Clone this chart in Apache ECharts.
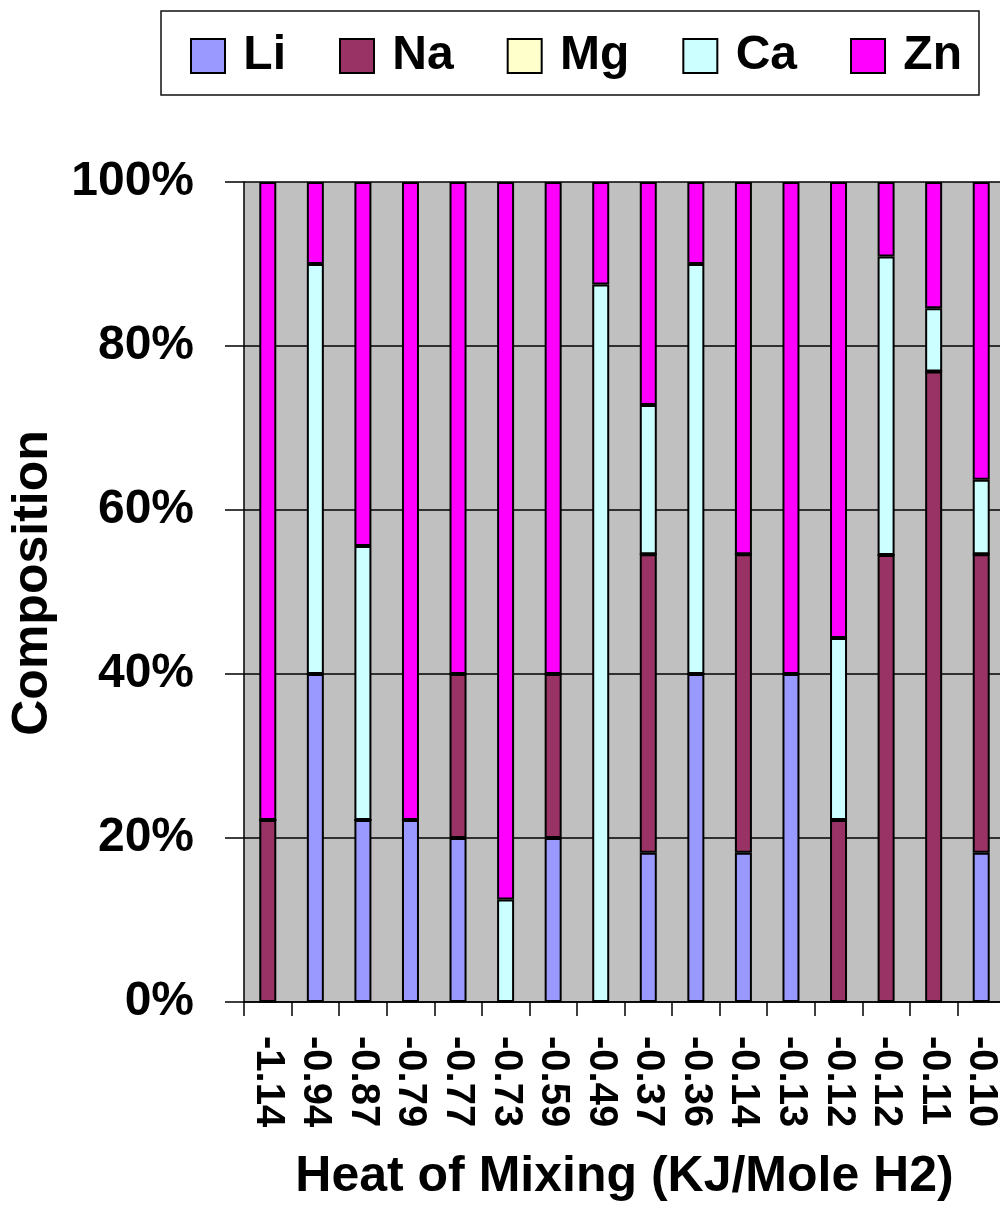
<!DOCTYPE html>
<html>
<head>
<meta charset="utf-8">
<script src="https://cdn.jsdelivr.net/npm/echarts@6/dist/echarts.min.js"></script>
<style>
  html, body { margin: 0; padding: 0; background: #fff; overflow: hidden; }
  #chart { width: 1010px; height: 1211px; }
</style>
</head>
<body>
<div id="chart"></div>
<script>
// Heat of mixing per alloy (category axis labels)
const categories = ['-1.14', '-0.94', '-0.87', '-0.79', '-0.77', '-0.73', '-0.59', '-0.49',
                    '-0.37', '-0.36', '-0.14', '-0.13', '-0.12', '-0.12', '-0.11', '-0.10'];

// Composition share of each element, in percent
const li = [0, 40, 22.2, 22.2, 20, 0, 20, 0, 18.2, 40, 18.2, 40, 0, 0, 0, 18.2];
const na = [22.2, 0, 0, 0, 20, 0, 20, 0, 36.4, 0, 36.4, 0, 22.2, 54.5, 76.9, 36.4];
const mg = [0, 0, 0, 0, 0, 0, 0, 0, 0, 0, 0, 0, 0, 0, 0, 0];
const ca = [0, 50, 33.4, 0, 0, 12.5, 0, 87.5, 18.2, 50, 0, 0, 22.2, 36.4, 7.7, 9.1];
const zn = [77.8, 10, 44.4, 77.8, 60, 87.5, 60, 12.5, 27.2, 10, 45.4, 60, 55.6, 9.1, 15.4, 36.3];

const yTicks = [0, 20, 40, 60, 80, 100];

const FONT = "'Liberation Sans', Arial, sans-serif";

const seriesDefs = [
  { name: 'Li', data: li, color: '#9999FF' },
  { name: 'Na', data: na, color: '#993366' },
  { name: 'Mg', data: mg, color: '#FFFFCC' },
  { name: 'Ca', data: ca, color: '#CCFFFF' },
  { name: 'Zn', data: zn, color: '#FF00FF' }
];

const chart = echarts.init(document.getElementById('chart'), null, { renderer: 'canvas' });

chart.setOption({
  animation: false,
  backgroundColor: '#ffffff',
  legend: {
    left: 161,
    top: 11,
    orient: 'horizontal',
    itemWidth: 34,
    itemHeight: 34,
    itemGap: 53,
    padding: [21, 17, 15, 29],
    borderColor: '#111',
    borderWidth: 1.5,
    icon: 'rect',
    formatter: ' {name}',
    textStyle: {
      fontFamily: FONT,
      fontWeight: 'bold',
      fontSize: 48,
      color: '#000'
    },
    data: seriesDefs.map(s => s.name)
  },
  grid: {
    left: 242,
    right: 5,
    top: 182,
    bottom: 209,
    show: true,
    backgroundColor: '#C0C0C0',
    borderWidth: 0
  },
  xAxis: {
    type: 'category',
    data: categories,
    boundaryGap: true,
    name: 'Heat of Mixing (KJ/Mole H2)',
    nameLocation: 'middle',
    nameGap: 150,
    nameTextStyle: {
      fontFamily: FONT,
      fontWeight: 'bold',
      fontSize: 50,
      color: '#000',
      lineHeight: 50
    },
    axisLine: { show: true, lineStyle: { color: '#000', width: 1.5 } },
    axisTick: { show: true, length: 14, alignWithLabel: false, lineStyle: { color: '#000', width: 1.5 } },
    axisLabel: {
      rotate: -90,
      margin: 34,
      interval: 0,
      fontFamily: FONT,
      fontWeight: 'bold',
      fontSize: 40,
      color: '#000'
    },
    splitLine: { show: false }
  },
  yAxis: {
    type: 'value',
    min: yTicks[0],
    max: yTicks[yTicks.length - 1],
    interval: 20,
    name: 'Composition',
    nameLocation: 'middle',
    nameGap: 186,
    nameRotate: 90,
    nameTextStyle: {
      fontFamily: FONT,
      fontWeight: 'bold',
      fontSize: 50,
      color: '#000',
      padding: [0, 0, 0, 18]
    },
    axisLine: { show: true, lineStyle: { color: '#000', width: 1.5 } },
    axisTick: { show: true, length: 19, lineStyle: { color: '#000', width: 1.5 } },
    axisLabel: {
      margin: 50,
      formatter: '{value}%',
      fontFamily: FONT,
      fontWeight: 'bold',
      fontSize: 48,
      color: '#000'
    },
    splitLine: { show: true, lineStyle: { color: '#000', width: 1.5 } }
  },
  series: seriesDefs.map(s => ({
    name: s.name,
    type: 'bar',
    stack: 'composition',
    data: s.data,
    barWidth: 17,
    itemStyle: {
      color: s.color,
      borderColor: '#000',
      borderWidth: 2
    },
    emphasis: { disabled: true }
  }))
});
</script>
</body>
</html>
